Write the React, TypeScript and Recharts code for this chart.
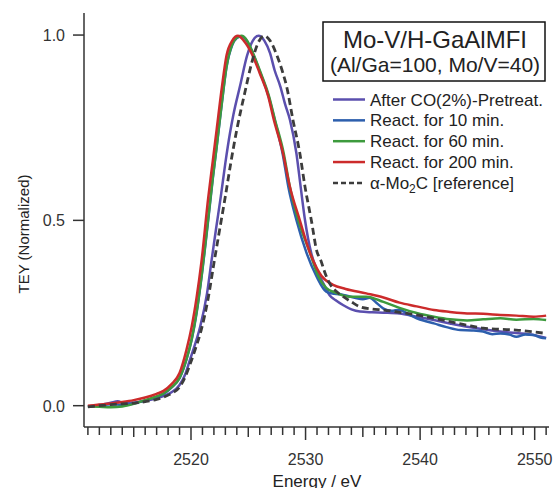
import React from 'react';
import { LineChart, Line, XAxis, YAxis } from 'recharts';

// [energy (eV), normalized TEY]
const pretreatCO = [
  [2511.0, -0.002], [2512.0, 0.002], [2513.0, 0.008], [2513.6, 0.012], [2514.2, 0.006],
  [2515.0, 0.008], [2516.0, 0.013], [2517.0, 0.020], [2517.6, 0.026], [2518.3, 0.036],
  [2519.0, 0.056], [2519.5, 0.085], [2519.9, 0.123], [2520.4, 0.170], [2520.8, 0.213],
  [2521.4, 0.303], [2521.8, 0.393], [2522.2, 0.480], [2522.6, 0.564], [2523.0, 0.655],
  [2523.4, 0.735], [2523.7, 0.785], [2524.3, 0.865], [2524.9, 0.945], [2525.4, 0.985],
  [2525.9, 0.998], [2526.4, 0.985], [2526.9, 0.951], [2527.3, 0.905], [2527.8, 0.861],
  [2528.2, 0.815], [2528.64, 0.771], [2529.2, 0.681], [2529.57, 0.591], [2529.95, 0.501],
  [2530.5, 0.411], [2531.0, 0.366], [2531.55, 0.330], [2532.1, 0.298], [2532.6, 0.285],
  [2533.3, 0.271], [2534.0, 0.260], [2534.75, 0.254], [2535.8, 0.252], [2536.8, 0.251],
  [2538.2, 0.249], [2539.7, 0.240], [2541.2, 0.231], [2542.6, 0.222], [2544.1, 0.213],
  [2545.5, 0.206], [2547.0, 0.200], [2548.4, 0.196], [2549.9, 0.191], [2551.0, 0.183],
];

const react10 = [
  [2511.0, -0.003], [2512.0, 0.0], [2513.0, 0.004], [2514.0, 0.002], [2515.0, 0.006],
  [2516.0, 0.014], [2517.0, 0.024], [2517.6, 0.032], [2518.3, 0.049], [2519.0, 0.074],
  [2519.6, 0.124], [2520.06, 0.178], [2520.5, 0.252], [2520.9, 0.342], [2521.5, 0.500],
  [2521.9, 0.612], [2522.24, 0.698], [2522.7, 0.818], [2523.1, 0.913], [2523.6, 0.973],
  [2524.0, 0.992], [2524.4, 0.997], [2524.9, 0.983], [2525.4, 0.950], [2526.0, 0.902],
  [2526.8, 0.832], [2527.3, 0.772], [2528.0, 0.680], [2528.5, 0.590], [2529.2, 0.501],
  [2530.1, 0.411], [2530.97, 0.348], [2531.8, 0.308], [2532.5, 0.302], [2533.3, 0.299],
  [2534.3, 0.291], [2535.0, 0.287], [2535.6, 0.291], [2536.2, 0.277], [2536.8, 0.262],
  [2537.5, 0.256], [2538.2, 0.259], [2539.0, 0.246], [2539.7, 0.236], [2540.5, 0.228],
  [2541.2, 0.222], [2542.3, 0.212], [2543.5, 0.204], [2544.5, 0.203], [2545.5, 0.200],
  [2546.3, 0.193], [2547.0, 0.195], [2547.8, 0.192], [2548.4, 0.186], [2549.2, 0.192],
  [2549.9, 0.191], [2550.5, 0.184], [2551.0, 0.182],
];

const react60 = [
  [2511.0, -0.002], [2512.0, -0.003], [2513.0, -0.004], [2514.0, -0.002], [2515.0, 0.005],
  [2516.0, 0.015], [2517.0, 0.025], [2517.6, 0.033], [2518.3, 0.050], [2519.0, 0.075],
  [2519.6, 0.125], [2520.06, 0.180], [2520.5, 0.255], [2520.9, 0.345], [2521.5, 0.505],
  [2521.9, 0.615], [2522.24, 0.700], [2522.7, 0.820], [2523.1, 0.915], [2523.6, 0.975],
  [2524.0, 0.993], [2524.4, 0.998], [2524.9, 0.985], [2525.4, 0.952], [2526.0, 0.905],
  [2526.8, 0.836], [2527.3, 0.775], [2528.1, 0.680], [2528.6, 0.595], [2529.36, 0.501],
  [2530.4, 0.411], [2531.1, 0.350], [2531.8, 0.318], [2532.6, 0.305], [2533.9, 0.294],
  [2535.3, 0.294], [2536.8, 0.280], [2538.2, 0.264], [2539.7, 0.250], [2541.2, 0.240],
  [2542.6, 0.233], [2544.1, 0.230], [2545.5, 0.233], [2547.0, 0.236], [2548.4, 0.232],
  [2549.9, 0.234], [2551.0, 0.231],
];

const react200 = [
  [2511.0, 0.000], [2512.0, 0.003], [2513.0, 0.006], [2514.0, 0.010], [2515.0, 0.015],
  [2516.0, 0.022], [2517.0, 0.032], [2517.6, 0.040], [2518.3, 0.058], [2519.0, 0.088],
  [2519.6, 0.150], [2520.06, 0.213], [2520.5, 0.294], [2520.9, 0.385], [2521.5, 0.560],
  [2521.9, 0.660], [2522.24, 0.745], [2522.7, 0.860], [2523.1, 0.945], [2523.6, 0.985],
  [2524.1, 0.998], [2524.6, 0.985], [2525.3, 0.950], [2526.0, 0.897], [2526.75, 0.834],
  [2527.2, 0.775], [2528.0, 0.685], [2528.6, 0.595], [2529.5, 0.500], [2530.4, 0.411],
  [2531.0, 0.370], [2531.4, 0.350], [2532.4, 0.326], [2533.5, 0.315], [2535.3, 0.303],
  [2536.8, 0.292], [2538.2, 0.278], [2539.7, 0.268], [2541.2, 0.258], [2542.6, 0.253],
  [2544.1, 0.249], [2545.5, 0.248], [2547.0, 0.245], [2548.4, 0.243], [2549.9, 0.240],
  [2551.0, 0.243],
];

const mo2cRef = [
  [2511.0, -0.003], [2512.0, 0.0], [2513.0, 0.003], [2514.0, 0.005], [2515.0, 0.007],
  [2516.0, 0.011], [2517.0, 0.017], [2517.6, 0.023], [2518.3, 0.033], [2519.0, 0.050],
  [2519.5, 0.078], [2519.9, 0.110], [2520.4, 0.155], [2520.9, 0.205], [2521.5, 0.290],
  [2522.0, 0.384], [2522.5, 0.475], [2523.0, 0.565], [2523.5, 0.660], [2524.0, 0.745],
  [2524.7, 0.845], [2525.3, 0.925], [2525.8, 0.975], [2526.4, 0.998],
  [2526.9, 0.985], [2527.5, 0.945], [2528.0, 0.900], [2528.35, 0.861], [2528.9, 0.771],
  [2529.5, 0.681], [2529.95, 0.591], [2530.5, 0.501], [2531.0, 0.415], [2531.3, 0.395],
  [2531.7, 0.358], [2532.1, 0.330], [2532.7, 0.308], [2533.3, 0.294], [2534.0, 0.280],
  [2534.75, 0.267], [2535.8, 0.261], [2536.8, 0.258], [2538.2, 0.252], [2539.7, 0.245],
  [2541.2, 0.236], [2542.6, 0.227], [2544.1, 0.217], [2545.5, 0.209], [2547.0, 0.206],
  [2548.4, 0.204], [2549.9, 0.199], [2551.0, 0.195],
];

const labeledEnergies = [2520, 2530, 2540, 2550];
const minorEnergies = Array.from({ length: 41 }, (_, i) => 2511 + i);
const teyTicks = [0, 0.5, 1.0];

const series = [
  { name: 'After CO(2%)-Pretreat.', rows: pretreatCO, color: '#5b4fae', dash: undefined },
  { name: 'React. for 10 min.', rows: react10, color: '#2d5fad', dash: undefined },
  { name: 'React. for 60 min.', rows: react60, color: '#3d9a3d', dash: undefined },
  { name: 'React. for 200 min.', rows: react200, color: '#cc2b2b', dash: undefined },
  { name: 'mo2c', rows: mo2cRef, color: '#3c3c3c', dash: '7 4' },
];

const font = '"Liberation Sans", Arial, Helvetica, sans-serif';
const ink = '#333';
const xDomain = [2510.66, 2551.25];
const yDomain = [-0.0575, 1.0595];

const EnergyTick = (props: any) => {
  const { x, y, payload } = props;
  const e = payload.value;
  const len = e % 10 === 0 ? 13 : e % 5 === 0 ? 10 : 8;
  return (
    <g>
      <line x1={x} x2={x} y1={y} y2={y + len} stroke={ink} strokeWidth={1.5} />
      {labeledEnergies.includes(e) && (
        <text x={x} y={y + 38} textAnchor="middle" fontSize={16} fill={ink} fontFamily={font}>
          {e}
        </text>
      )}
    </g>
  );
};

const TeyTick = (props: any) => {
  const { x, y, payload } = props;
  return (
    <g>
      <line x1={x - 11} x2={x} y1={y} y2={y} stroke={ink} strokeWidth={1.5} />
      <text x={x - 19} y={y + 6} textAnchor="end" fontSize={16} fill={ink} fontFamily={font}>
        {payload.value.toFixed(1)}
      </text>
    </g>
  );
};

export default function App() {
  const rowY = (i: number) => 99.5 + i * 20.85;
  return (
    <div style={{ position: 'absolute', left: 0, top: 0, width: 555, height: 488, background: '#fff' }}>
      <LineChart width={555} height={488} margin={{ top: 13, right: 6, bottom: 0, left: 0 }}>
        <XAxis
          xAxisId="b"
          dataKey="e"
          type="number"
          domain={xDomain}
          allowDataOverflow
          ticks={minorEnergies}
          interval={0}
          tick={<EnergyTick />}
          tickLine={false}
          tickSize={0}
          tickMargin={0}
          height={61}
          axisLine={{ stroke: ink, strokeWidth: 1.5 }}
        />
        <XAxis
          xAxisId="t"
          orientation="top"
          dataKey="e"
          type="number"
          domain={xDomain}
          allowDataOverflow
          tick={false}
          tickLine={false}
          height={0}
          axisLine={{ stroke: ink, strokeWidth: 1.5 }}
        />
        <YAxis
          yAxisId="l"
          type="number"
          domain={yDomain}
          allowDataOverflow
          ticks={teyTicks}
          interval={0}
          tick={<TeyTick />}
          tickLine={false}
          tickSize={0}
          tickMargin={0}
          width={84}
          axisLine={{ stroke: ink, strokeWidth: 1.5 }}
        />
        <YAxis
          yAxisId="r"
          orientation="right"
          type="number"
          domain={yDomain}
          allowDataOverflow
          tick={false}
          tickLine={false}
          width={0}
          axisLine={{ stroke: ink, strokeWidth: 1.5 }}
        />
        {series.map((s) => (
          <Line
            key={s.name}
            xAxisId="b"
            yAxisId="l"
            data={s.rows.map(([e, v]) => ({ e, v }))}
            dataKey="v"
            type="monotone"
            stroke={s.color}
            strokeWidth={s.dash ? 2.8 : 2.5}
            strokeDasharray={s.dash}
            dot={false}
            activeDot={false}
            isAnimationActive={false}
          />
        ))}
      </LineChart>

      <svg width={555} height={488} style={{ position: 'absolute', left: 0, top: 0, pointerEvents: 'none' }}>
        <g fontFamily={font} fill="#222">
          <rect x={323} y={22} width={222} height={59} fill="#fff" stroke="#111" strokeWidth={1.5} />
          <text x={435} y={48} textAnchor="middle" fontSize={24}>Mo-V/H-GaAlMFI</text>
          <text x={435} y={71.5} textAnchor="middle" fontSize={21}>(Al/Ga=100, Mo/V=40)</text>

          {series.map((s, i) => (
            <g key={s.name}>
              <line
                x1={333}
                x2={365}
                y1={rowY(i)}
                y2={rowY(i)}
                stroke={s.color}
                strokeWidth={2.5}
                strokeDasharray={s.dash ? '5 3' : undefined}
              />
              <text x={370} y={rowY(i) + 6} fontSize={17}>
                {s.dash ? (
                  <>
                    α-Mo<tspan dy={4} fontSize={12}>2</tspan>
                    <tspan dy={-4}>C [reference]</tspan>
                  </>
                ) : (
                  s.name
                )}
              </text>
            </g>
          ))}

          <text x={317} y={487} textAnchor="middle" fontSize={17}>Energy / eV</text>
          <text x={24} y={234} textAnchor="middle" fontSize={15} transform="rotate(-90 24 234)" dy={5}>
            TEY (Normalized)
          </text>
        </g>
      </svg>
    </div>
  );
}
